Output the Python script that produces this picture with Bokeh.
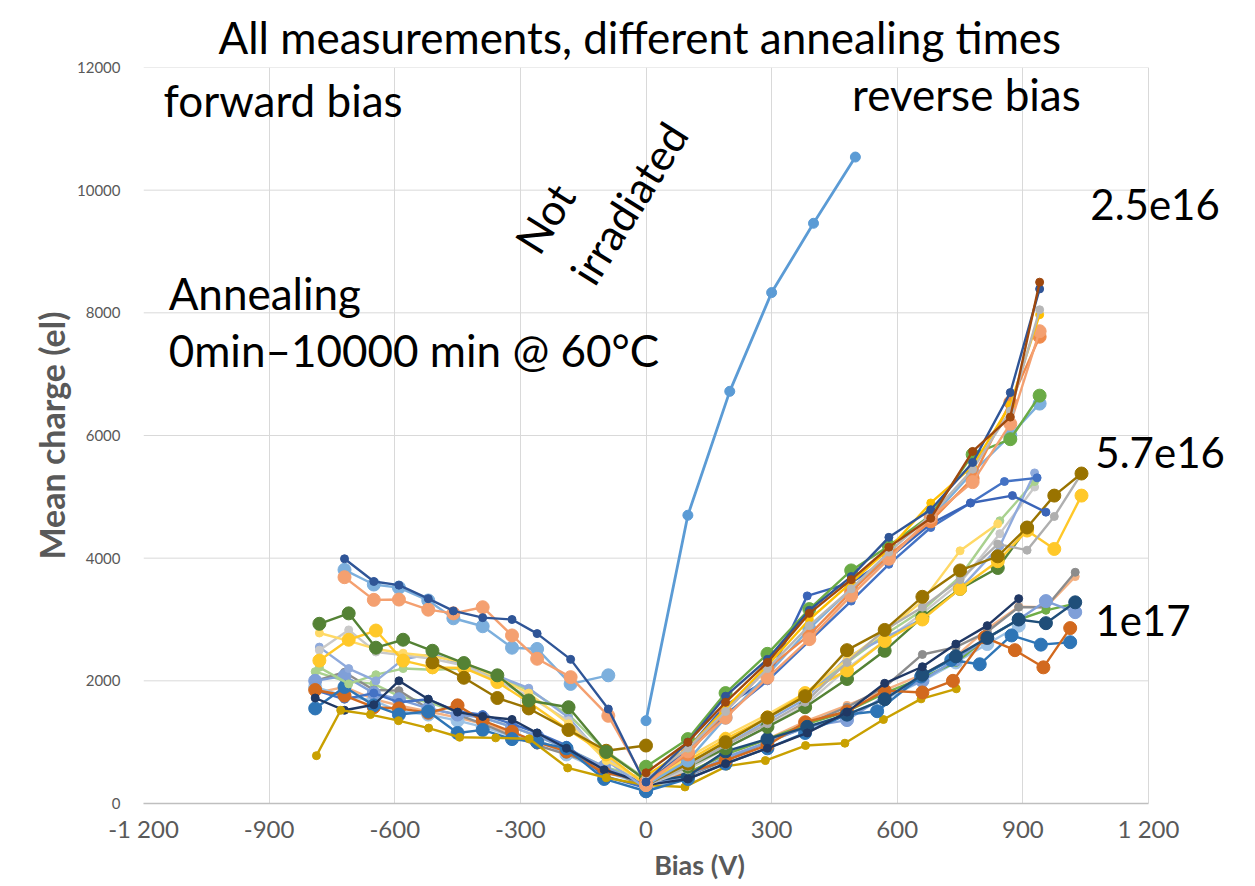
from bokeh.plotting import figure
from bokeh.models import Range1d, FixedTicker, Label
from bokeh.embed import file_html
from bokeh.resources import INLINE

# ---------------- data ----------------
X_TICKS = [-1200, -900, -600, -300, 0, 300, 600, 900, 1200]
X_TICK_LABELS = ["-1 200", "-900", "-600", "-300", "0", "300", "600", "900", "1 200"]
Y_TICKS = [0, 2000, 4000, 6000, 8000, 10000, 12000]

# not irradiated
ni_x = [0, 100, 200, 300, 400, 500]
ni_y = [1350, 4700, 6720, 8330, 9460, 10540]

# forward bias, upper group
fu_x = [-720, -650, -590, -520, -460, -390, -320, -260, -180, -90, 0]
fu_navy = [3990, 3620, 3560, 3340, 3140, 3030, 3000, 2770, 2350, 1540, 300]
fu_lblue = [3810, 3570, 3520, 3310, 3020, 2890, 2540, 2520, 1950, 2090]
fu_orange = [3690, 3320, 3325, 3160, 3100, 3200, 2740, 2360, 2060, 1430, 350]

# forward bias, middle group
fm_x = [-780, -710, -645, -580, -510, -435, -355, -280, -185, -95, 0]
fm_green = [2930, 3100, 2540, 2670, 2490, 2290, 2090, 1680, 1570, 840, 380]
fm_yellow = [2330, 2670, 2820, 2330, 2220, 2210, 1980, 1650, 1200, 800, 300]
fm_lyellow = [2780, 2650, 2520, 2450, 2400, 2300, 2050, 1800, 1300, 700, 350]
fm_lgray = [2500, 2830, 2470, 2420, 2360, 2250, 2000, 1750, 1350, 750, 300]
fm_lpurple = [2550, 2200, 2000, 2350, 2440, 2250, 2080, 1880, 1400, 700, 250]
fm_lgreen = [2220, 1950, 2100, 2200, 2180, 2200, 2050, 1850, 1450, 850, 400]
fm_olive_x = [-510, -435, -355, -280, -185, -95, 0]
fm_olive = [2300, 2050, 1720, 1550, 1200, 860, 945]

# forward bias, lower group
fl_x = [-790, -720, -650, -590, -520, -450, -390, -320, -260, -190, -100, 0]
fl_navy = [1720, 1520, 1610, 2000, 1700, 1490, 1420, 1370, 1150, 900, 550, 330]
fl_blue = [1550, 1900, 1600, 1450, 1500, 1150, 1200, 1050, 1000, 900, 400, 200]
fl_dorange = [1850, 1760, 1570, 1550, 1480, 1600, 1350, 1170, 1000, 850, 500, 380]
fl_bluegray = [2000, 2080, 1800, 1700, 1550, 1450, 1400, 1250, 1100, 900, 600, 300]
fl_gray = [2000, 2140, 1850, 1840, 1550, 1450, 1300, 1100, 950, 800, 600, 250]
fl_lblue = [1900, 1750, 1680, 1500, 1450, 1350, 1250, 1100, 1050, 800, 520, 300]
fl_blue2 = [1850, 1700, 1800, 1650, 1700, 1500, 1450, 1300, 1150, 950, 450, 250]
fl_peach = [1800, 1900, 1700, 1600, 1500, 1400, 1300, 1150, 1000, 850, 550, 350]
fl_lgreen = [2150, 2000, 1950, 1750, 1650, 1500, 1400, 1250, 1100, 900, 600, 400]
fl_gold_x = [-787, -729, -658, -591, -519, -445, -359, -279, -187, -95, 0]
fl_gold = [780, 1520, 1450, 1350, 1230, 1080, 1070, 1055, 580, 420, 300]

# reverse bias, 2.5e16 group
ru_x = [0, 100, 190, 290, 390, 490, 580, 680, 780, 870, 940]
ru_brown = [500, 1000, 1650, 2300, 3100, 3650, 4180, 4650, 5740, 6300, 8500]
ru_navy = [350, 1000, 1750, 2350, 3150, 3700, 4340, 4790, 5560, 6700, 8390]
ru_gray = [400, 900, 1500, 2200, 2900, 3500, 4100, 4700, 5450, 6400, 8050]
ru_yellow = [450, 900, 1550, 2250, 3000, 3600, 4150, 4900, 5500, 6500, 7970]
ru_orange1 = [300, 850, 1400, 2050, 2680, 3390, 3990, 4670, 5240, 6190, 7700]
ru_orange2 = [350, 800, 1500, 2200, 2750, 3450, 4050, 4600, 5300, 6540, 7610]
ru_green = [600, 1050, 1800, 2440, 3170, 3800, 4200, 4700, 5690, 5940, 6650]
ru_lblue = [300, 700, 1400, 2100, 2850, 3500, 4000, 4650, 5400, 6000, 6520]
ru_blue_x = [0, 100, 190, 290, 385, 490, 580, 680, 775, 875, 955]
ru_blue = [300, 900, 1600, 2020, 3385, 3600, 4000, 4560, 4900, 5020, 4750]
ru_blue2_x = [0, 100, 190, 290, 390, 490, 580, 680, 775, 856, 934]
ru_blue2 = [350, 850, 1450, 2000, 2650, 3300, 3900, 4500, 4900, 5250, 5310]

# reverse bias, 5.7e16 group
rm_x = [0, 100, 190, 290, 380, 480, 570, 660, 750, 840, 910, 975, 1040]
rm_olive = [300, 650, 1000, 1400, 1750, 2500, 2830, 3370, 3800, 4030, 4500, 5020, 5380]
rm_gray = [300, 600, 950, 1300, 1650, 2300, 2830, 3200, 3650, 4230, 4130, 4680, 5380]
rm_yellow = [350, 700, 1050, 1400, 1800, 2170, 2650, 3000, 3500, 3950, 4450, 4150, 5020]
rm_green = [400, 600, 900, 1250, 1570, 2030, 2490, 3040, 3500, 3840, 4490]
rm_lyellow = [350, 750, 1100, 1450, 1800, 2350, 2800, 3300, 4120, 4560]
rm_end_x = [0, 100, 190, 290, 380, 480, 570, 660, 750, 845, 928]
rm_lpurple = [300, 600, 950, 1350, 1700, 2385, 2700, 3010, 3500, 4200, 5390]
rm_lgreen = [350, 650, 1000, 1400, 1750, 2300, 2750, 3150, 3700, 4610, 5250]
rm_lgray = [300, 550, 900, 1250, 1600, 2200, 2650, 3100, 3600, 4400, 5160]

# reverse bias, 1e17 group
rl_x = [0, 100, 190, 290, 385, 480, 570, 660, 740, 815, 890, 955, 1025]
rl_navy = [300, 400, 650, 900, 1150, 1490, 1960, 2230, 2600, 2900, 3340]
rl_navy2 = [350, 450, 850, 1050, 1250, 1450, 1700, 2100, 2400, 2700, 3000, 2940, 3280]
rl_gray = [300, 450, 700, 1000, 1300, 1570, 1900, 2430, 2550, 2800, 3200, 3200, 3770]
rl_peach = [300, 500, 800, 1050, 1350, 1600, 1850, 2100, 2400, 2850, 3210, 3200, 3700]
rl_green = [350, 500, 800, 1050, 1300, 1500, 1800, 2050, 2300, 2700, 3000, 3150, 3260]
rl_bluegray = [300, 450, 750, 1000, 1250, 1360, 1750, 2000, 2350, 2700, 3000, 3300, 3120]
rl_lblue = [200, 450, 750, 1000, 1250, 1450, 1700, 2000, 2300, 2600, 2900]
rl_dorange_x = [0, 100, 190, 290, 380, 480, 570, 660, 733, 809, 881, 949, 1013]
rl_dorange = [350, 500, 700, 950, 1325, 1500, 1840, 1810, 2000, 2710, 2500, 2220, 2860]
rl_blue_x = [0, 100, 190, 290, 380, 480, 552, 657, 729, 797, 873, 943, 1013]
rl_blue = [200, 400, 650, 900, 1150, 1450, 1505, 2070, 2340, 2270, 2740, 2590, 2630]
rl_gold_x = [0, 93, 193, 285, 381, 475, 567, 657, 741]
rl_gold = [300, 270, 610, 700, 945, 983, 1369, 1706, 1870]

# ---------------- styles ----------------
S, L = 8, 13
series = [
    (fl_x, fl_peach, "#F4B183", S),
    (fl_x, fl_lgreen, "#A9D18E", S),
    (fl_x, fl_lblue, "#9DC3E6", L),
    (fl_x, fl_gray, "#8C8C8C", S),
    (fl_x, fl_bluegray, "#7F9FD8", L),
    (fl_x, fl_blue2, "#4472C4", S),
    (fl_x, fl_dorange, "#D2691E", L),
    (fl_x, fl_blue, "#2E75B6", L),
    (fl_x, fl_navy, "#1F3864", S),
    (fl_gold_x, fl_gold, "#C9A000", S),
    (fm_x, fm_lgreen, "#A9D18E", S),
    (fm_x, fm_lpurple, "#8FAADC", S),
    (fm_x, fm_lgray, "#C9C9C9", S),
    (fm_x, fm_lyellow, "#FFD966", S),
    (fm_x, fm_yellow, "#FFC829", L),
    (fm_olive_x, fm_olive, "#997300", L),
    (fm_x, fm_green, "#548235", L),
    (fu_x[:10], fu_lblue, "#7CAFDD", L),
    (fu_x, fu_orange, "#F4A070", L),
    (fu_x, fu_navy, "#2F5597", S),
    (rl_x[:11], rl_lblue, "#9DC3E6", L),
    (rl_gold_x, rl_gold, "#C9A000", S),
    (rl_x, rl_peach, "#F4B183", S),
    (rl_x, rl_gray, "#8C8C8C", S),
    (rl_x, rl_green, "#70AD47", S),
    (rl_x, rl_bluegray, "#7F9FD8", L),
    (rl_blue_x, rl_blue, "#2E75B6", L),
    (rl_dorange_x, rl_dorange, "#D2691E", L),
    (rl_x, rl_navy2, "#1F4E79", L),
    (rl_x[:11], rl_navy, "#203864", S),
    (rm_end_x, rm_lgray, "#C9C9C9", S),
    (rm_end_x, rm_lgreen, "#A9D18E", S),
    (rm_end_x, rm_lpurple, "#8FAADC", S),
    (rm_x[:10], rm_lyellow, "#FFD966", S),
    (rm_x[:11], rm_green, "#548235", L),
    (rm_x, rm_yellow, "#FFC829", L),
    (rm_x, rm_gray, "#AFAFAF", S),
    (rm_x, rm_olive, "#997300", L),
    (ru_blue2_x, ru_blue2, "#4472C4", S),
    (ru_blue_x, ru_blue, "#3A64B8", S),
    (ru_x, ru_lblue, "#7CAFDD", L),
    (ru_x, ru_green, "#6AAB45", L),
    (ru_x, ru_orange2, "#F08A4B", L),
    (ru_x, ru_orange1, "#F4A070", L),
    (ru_x, ru_yellow, "#FFC000", S),
    (ru_x, ru_gray, "#B7B7B7", S),
    (ru_x, ru_navy, "#2F5597", S),
    (ru_x, ru_brown, "#9E480E", S),
]

FONT = "Lato"
GRAY = "#595959"
GRID = "#D9D9D9"

# frame: 143..1255 px wide; 1200 V must sit at 1148 px (300 V = 125 px)
X_END = -1200 + (1255 - 143) * 2400 / 1005

p = figure(width=1255, height=886,
           x_range=Range1d(-1200, X_END), y_range=Range1d(0, 12000),
           output_backend="svg", toolbar_location=None,
           min_border_left=143, min_border_right=0,
           min_border_top=67, min_border_bottom=83,
           title="All measurements, different annealing times")
p.outline_line_color = None
p.background_fill_color = "white"
p.title.text_font = FONT
p.title.text_font_size = "44px"
p.title.text_font_style = "normal"
p.title.text_color = "black"
p.title.align = "left"
p.title.offset = 75
p.title.standoff = 10

# horizontal grid lines limited to the axis span
p.ygrid.grid_line_color = None
p.segment(x0=[X_TICKS[0]] * len(Y_TICKS), x1=[X_TICKS[-1]] * len(Y_TICKS),
          y0=Y_TICKS, y1=Y_TICKS, line_color=GRID, line_width=1)
p.xgrid.ticker = FixedTicker(ticks=X_TICKS)
p.xgrid.grid_line_color = GRID

for xs, ys, col, sz in series:
    xx = xs[:len(ys)]
    p.line(xx, ys, line_color=col, line_width=2.4)
    p.scatter(xx, ys, size=sz, fill_color=col, line_color=col)

p.line(ni_x, ni_y, line_color="#5B9BD5", line_width=2.8)
p.scatter(ni_x, ni_y, size=10, fill_color="#5B9BD5", line_color="#5B9BD5")

# axes
p.xaxis.ticker = FixedTicker(ticks=X_TICKS)
p.xaxis.major_label_overrides = {t: s for t, s in zip(X_TICKS, X_TICK_LABELS)}
p.xaxis.bounds = (X_TICKS[0], X_TICKS[-1])
p.yaxis.ticker = FixedTicker(ticks=Y_TICKS)
for ax in (p.xaxis, p.yaxis):
    ax.major_tick_line_color = None
    ax.minor_tick_line_color = None
    ax.major_label_text_font = FONT
    ax.major_label_text_color = GRAY
    ax.axis_label_text_font = FONT
    ax.axis_label_text_font_style = "bold"
    ax.axis_label_text_color = GRAY
p.xaxis.major_label_text_font_size = "24px"
p.yaxis.major_label_text_font_size = "15px"
p.xaxis.axis_label_text_font_size = "27px"
p.yaxis.axis_label_text_font_size = "34px"
p.xaxis.axis_line_color = "#BFBFBF"
p.xaxis.axis_line_width = 1.5
p.yaxis.axis_line_color = None
p.xaxis.axis_label = "Bias (V)"
p.yaxis.axis_label = "Mean charge (el)"
p.xaxis.major_label_standoff = 4
p.xaxis.axis_label_standoff = 2
p.yaxis.major_label_standoff = 17
p.yaxis.axis_label_standoff = 2


def lab(x, y, text, size="44px", angle=0):
    p.add_layout(Label(x=x, y=y, text=text, text_font=FONT, text_font_size=size,
                       text_color="black", text_align="left",
                       text_baseline="alphabetic", angle=angle, angle_units="deg"))


lab(-1152, 11462, "forward bias")
lab(492, 11560, "reverse bias")
lab(-1140, 8331, "Annealing")
lab(-1140, 7402, "0min\u201310000 min @ 60\u00b0C")
lab(1061, 9766, "2.5e16", size="42px")
lab(1073, 5723, "5.7e16", size="42px")
lab(1073, 2984, "1e17", size="42px")
lab(-288, 9049, "Not", size="43px", angle=58)
lab(-156, 8543, "irradiated", size="43px", angle=58)

open("out.html", "w").write(file_html(p, INLINE))
